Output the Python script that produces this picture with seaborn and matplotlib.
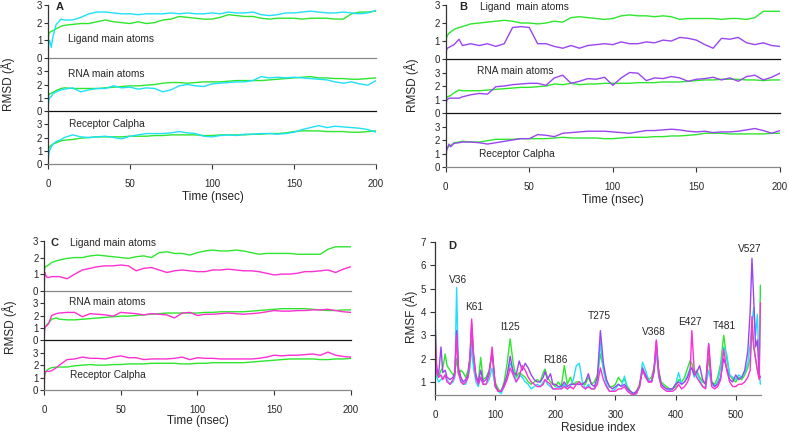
import matplotlib
matplotlib.use("Agg")
import matplotlib.pyplot as plt
import seaborn as sns

# ---- RMSD time series (panels A-C), shared time grid in nsec ----
time = [0, 0.5, 1, 2, 3, 5, 8, 10, 15, 20, 25, 30, 35, 40, 45, 50, 55, 60, 65, 70,
        75, 80, 85, 90, 95, 100, 105, 110, 115, 120, 125, 130, 135, 140, 145, 150,
        155, 160, 165, 170, 175, 180, 185, 190, 195, 200]

a_lig_green = [0.7, 1.4, 1.45, 1.5, 1.55, 1.65, 1.8, 1.85, 1.9, 1.95, 1.95, 2.05, 2.15, 2.05, 2.0, 1.95,
               2.05, 1.95, 2.0, 2.15, 2.2, 2.35, 2.3, 2.25, 2.2, 2.2, 2.3, 2.45, 2.4, 2.35, 2.35, 2.25,
               2.2, 2.25, 2.25, 2.25, 2.2, 2.25, 2.25, 2.25, 2.2, 2.2, 2.5, 2.6, 2.6, 2.65]
a_lig_cyan = [0.0, 0.9, 1.0, 0.6, 1.2, 1.9, 2.2, 2.15, 2.15, 2.3, 2.5, 2.6, 2.6, 2.55, 2.5, 2.5,
              2.45, 2.5, 2.5, 2.5, 2.55, 2.5, 2.55, 2.5, 2.5, 2.55, 2.5, 2.6, 2.55, 2.55, 2.6, 2.45,
              2.4, 2.45, 2.55, 2.55, 2.6, 2.65, 2.6, 2.55, 2.55, 2.6, 2.55, 2.5, 2.55, 2.7]
a_rna_green = [0.7, 1.2, 1.3, 1.35, 1.4, 1.55, 1.7, 1.75, 1.7, 1.7, 1.7, 1.7, 1.75, 1.8, 1.85, 1.9,
               1.9, 1.95, 2.0, 2.1, 2.15, 2.15, 2.1, 2.15, 2.2, 2.2, 2.2, 2.25, 2.3, 2.3, 2.3, 2.3,
               2.35, 2.4, 2.45, 2.5, 2.55, 2.6, 2.5, 2.5, 2.45, 2.45, 2.4, 2.4, 2.45, 2.5]
a_rna_cyan = [0.0, 0.8, 1.0, 1.1, 1.3, 1.45, 1.6, 1.65, 1.75, 1.45, 1.6, 1.7, 1.7, 1.9, 1.75, 1.8,
              1.65, 1.75, 1.7, 1.45, 1.6, 1.9, 2.0, 1.9, 1.85, 2.05, 2.1, 2.15, 2.2, 2.2, 2.3, 2.6,
              2.5, 2.55, 2.5, 2.55, 2.5, 2.45, 2.4, 2.35, 2.2, 2.1, 2.2, 2.05, 1.95, 2.3]
a_rec_green = [0.9, 1.2, 1.3, 1.4, 1.5, 1.6, 1.75, 1.8, 1.85, 1.95, 2.0, 2.05, 2.05, 2.05, 2.05, 2.1,
               2.1, 2.1, 2.15, 2.15, 2.2, 2.2, 2.2, 2.2, 2.15, 2.15, 2.2, 2.2, 2.2, 2.2, 2.25, 2.25,
               2.3, 2.3, 2.35, 2.45, 2.5, 2.5, 2.5, 2.45, 2.45, 2.45, 2.4, 2.4, 2.45, 2.5]
a_rec_cyan = [0.0, 0.8, 1.0, 1.3, 1.5, 1.7, 1.85, 2.0, 2.2, 2.05, 2.0, 2.05, 2.1, 2.0, 1.9, 2.1,
              2.2, 2.3, 2.3, 2.3, 2.35, 2.45, 2.35, 2.3, 2.1, 2.05, 2.15, 2.2, 2.15, 2.25, 2.25, 2.3,
              2.3, 2.25, 2.3, 2.4, 2.6, 2.75, 2.9, 2.75, 2.85, 2.8, 2.75, 2.7, 2.6, 2.4]

b_lig_green = [0.6, 1.2, 1.3, 1.45, 1.5, 1.65, 1.75, 1.8, 1.95, 2.0, 2.05, 2.1, 2.15, 2.1, 2.0, 2.0,
               1.95, 2.0, 2.1, 2.05, 2.3, 2.35, 2.3, 2.25, 2.2, 2.25, 2.4, 2.45, 2.4, 2.4, 2.35, 2.4,
               2.35, 2.2, 2.25, 2.25, 2.25, 2.25, 2.2, 2.25, 2.25, 2.2, 2.3, 2.65, 2.65, 2.65]
b_lig_purple = [0.0, 0.5, 0.6, 0.65, 0.7, 0.8, 1.1, 0.75, 0.85, 0.75, 0.85, 0.7, 0.85, 1.75, 1.8, 1.75,
                0.85, 0.85, 0.7, 0.6, 0.75, 0.6, 0.75, 0.8, 0.85, 0.8, 0.95, 0.85, 0.85, 0.95, 0.9, 1.05,
                1.0, 1.2, 1.15, 1.05, 0.8, 0.6, 1.15, 1.1, 1.2, 0.9, 0.8, 0.9, 0.75, 0.7]
b_rna_green = [0.8, 1.1, 1.2, 1.25, 1.3, 1.5, 1.7, 1.65, 1.65, 1.65, 1.7, 1.75, 1.8, 1.85, 1.9, 1.9,
               1.95, 2.0, 2.15, 2.1, 2.2, 2.1, 2.15, 2.15, 2.2, 2.2, 2.2, 2.2, 2.25, 2.25, 2.25, 2.3,
               2.3, 2.3, 2.35, 2.4, 2.45, 2.45, 2.5, 2.5, 2.5, 2.45, 2.45, 2.4, 2.45, 2.45]
b_rna_purple = [0.0, 0.9, 1.0, 1.1, 1.1, 1.1, 1.1, 1.2, 1.35, 1.45, 1.4, 1.95, 2.0, 2.1, 2.15, 2.2,
                2.2, 2.05, 2.6, 2.8, 2.2, 2.35, 2.55, 2.5, 2.65, 2.05, 2.6, 3.0, 2.95, 2.4, 2.6, 2.55,
                2.7, 2.6, 2.35, 2.5, 2.55, 2.65, 2.45, 2.6, 2.35, 2.7, 2.8, 2.45, 2.65, 2.95]
b_rec_green = [0.9, 1.3, 1.4, 1.55, 1.6, 1.8, 1.85, 1.9, 1.85, 1.85, 1.95, 2.05, 2.05, 2.05, 2.1, 2.1,
               2.1, 2.1, 2.15, 2.2, 2.15, 2.15, 2.15, 2.15, 2.1, 2.1, 2.15, 2.2, 2.2, 2.2, 2.25, 2.25,
               2.3, 2.3, 2.35, 2.4, 2.5, 2.5, 2.5, 2.45, 2.45, 2.45, 2.45, 2.45, 2.5, 2.5]
b_rec_purple = [0.0, 1.2, 1.4, 1.7, 1.5, 1.75, 1.8, 1.85, 1.85, 1.8, 1.7, 1.8, 1.9, 2.0, 2.1, 2.1,
                2.4, 2.35, 2.25, 2.5, 2.55, 2.6, 2.65, 2.65, 2.65, 2.6, 2.55, 2.5, 2.6, 2.7, 2.7, 2.75,
                2.8, 2.75, 2.65, 2.6, 2.65, 2.55, 2.6, 2.6, 2.65, 2.75, 2.85, 2.7, 2.5, 2.7]

c_lig_green = [0.9, 1.4, 1.45, 1.5, 1.55, 1.7, 1.8, 1.85, 1.95, 2.0, 2.0, 2.1, 2.15, 2.1, 2.05, 2.0,
               1.95, 2.05, 2.1, 2.0, 2.3, 2.35, 2.25, 2.25, 2.15, 2.3, 2.4, 2.45, 2.4, 2.4, 2.45, 2.4,
               2.3, 2.2, 2.25, 2.25, 2.25, 2.25, 2.2, 2.2, 2.2, 2.2, 2.5, 2.65, 2.65, 2.65]
c_lig_magenta = [0.0, 1.1, 0.95, 0.8, 0.8, 0.85, 0.85, 0.85, 0.72, 1.0, 1.25, 1.35, 1.45, 1.5, 1.5, 1.55,
                 1.5, 1.2, 1.35, 1.4, 1.25, 1.1, 1.2, 1.25, 1.2, 1.15, 1.15, 1.25, 1.25, 1.3, 1.25, 1.2,
                 1.2, 1.15, 1.05, 0.95, 1.0, 1.0, 1.05, 1.15, 1.15, 1.2, 1.25, 1.1, 1.3, 1.45]
c_rna_green = [0.7, 1.0, 1.1, 1.3, 1.4, 1.7, 1.8, 1.7, 1.65, 1.65, 1.7, 1.75, 1.8, 1.85, 1.9, 1.95,
               1.95, 2.0, 2.05, 2.1, 2.15, 2.2, 2.2, 2.2, 2.2, 2.2, 2.25, 2.25, 2.3, 2.3, 2.3, 2.3,
               2.35, 2.4, 2.45, 2.5, 2.55, 2.55, 2.55, 2.55, 2.5, 2.45, 2.4, 2.4, 2.45, 2.45]
c_rna_magenta = [0.0, 1.0, 1.1, 1.2, 1.35, 2.0, 2.15, 2.2, 2.25, 2.25, 1.9, 2.15, 2.1, 2.05, 1.95, 2.25,
                 2.2, 2.15, 2.05, 2.15, 2.1, 2.05, 1.8, 2.2, 2.25, 2.0, 2.1, 2.1, 2.15, 2.2, 2.15, 2.1,
                 2.15, 2.2, 2.3, 2.4, 2.35, 2.35, 2.4, 2.4, 2.45, 2.45, 2.5, 2.4, 2.3, 2.25]
c_rec_green = [0.9, 1.3, 1.4, 1.6, 1.7, 1.8, 1.85, 1.85, 1.85, 1.95, 2.0, 2.05, 2.0, 2.0, 2.05, 2.05,
               2.1, 2.1, 2.1, 2.15, 2.15, 2.15, 2.15, 2.1, 2.1, 2.15, 2.15, 2.2, 2.2, 2.2, 2.2, 2.2,
               2.25, 2.3, 2.35, 2.4, 2.45, 2.5, 2.5, 2.5, 2.5, 2.45, 2.45, 2.5, 2.5, 2.55]
c_rec_magenta = [0.0, 1.4, 1.5, 1.5, 1.5, 1.55, 1.8, 2.0, 2.45, 2.5, 2.65, 2.55, 2.55, 2.5, 2.65, 2.75,
                 2.6, 2.6, 2.45, 2.5, 2.5, 2.5, 2.55, 2.65, 2.45, 2.6, 2.55, 2.55, 2.5, 2.5, 2.5, 2.5,
                 2.5, 2.55, 2.65, 2.8, 2.75, 2.8, 2.8, 2.85, 2.9, 2.8, 3.05, 2.8, 2.7, 2.65]

# ---- RMSF per residue (panel D) ----
residues = [0, 3, 6, 10, 13, 17, 20, 25, 30, 33,
            36, 39, 43, 47, 51, 55, 58, 61, 64, 68,
            72, 76, 80, 85, 90, 95, 100, 105, 110, 115,
            120, 125, 130, 135, 140, 145, 150, 155, 160, 165,
            170, 175, 180, 183, 187, 192, 196, 200, 205, 210,
            215, 220, 225, 230, 235, 240, 245, 250, 255, 260,
            265, 270, 275, 280, 285, 290, 295, 300, 305, 310,
            315, 320, 325, 330, 335, 340, 345, 350, 355, 360,
            364, 368, 372, 376, 380, 385, 390, 395, 400, 405,
            410, 415, 420, 424, 427, 431, 435, 440, 445, 450,
            455, 460, 465, 470, 475, 480, 485, 490, 495, 500,
            505, 510, 515, 520, 524, 527, 530, 533, 536, 539,
            541]
rmsf_green = [2.0, 1.3, 1.2, 1.5, 1.6, 2.2, 1.7, 1.5, 1.3, 1.4,
              2.0, 1.3, 1.5, 1.4, 1.2, 1.5, 2.0, 2.8, 1.8, 1.2,
              1.0, 2.05, 1.1, 1.2, 1.5, 2.2, 1.0, 0.7, 0.6, 1.0,
              1.8, 2.85, 1.8, 1.2, 1.4, 1.3, 1.2, 1.0, 0.9, 1.0,
              1.1, 1.0, 1.4, 1.55, 1.2, 1.0, 0.9, 0.8, 1.0, 0.8,
              1.7, 0.9, 1.2, 0.9, 1.0, 1.0, 0.9, 0.9, 1.2, 0.9,
              1.0, 1.3, 2.2, 1.6, 1.1, 0.8, 0.8, 0.9, 1.2, 1.0,
              1.1, 0.8, 0.6, 0.5, 0.6, 0.9, 1.5, 1.3, 1.1, 1.2,
              1.6, 2.2, 1.5, 1.0, 0.9, 0.8, 0.7, 0.7, 0.8, 1.1,
              1.0, 1.2, 1.6, 1.9, 1.8, 1.3, 1.5, 1.2, 1.0, 0.9,
              2.0, 1.0, 0.9, 1.2, 1.8, 3.0, 2.0, 1.3, 1.1, 1.0,
              1.2, 1.1, 1.3, 1.6, 2.0, 3.2, 2.5, 2.0, 1.5, 1.2,
              5.15]
rmsf_cyan = [4.0, 1.2, 1.0, 1.1, 1.2, 1.3, 1.1, 0.9, 1.0, 1.2,
             5.05, 1.5, 1.1, 0.9, 0.9, 1.2, 1.6, 2.5, 1.6, 1.0,
             0.8, 1.2, 0.9, 0.9, 1.1, 1.6, 0.8, 0.6, 0.5, 0.8,
             1.3, 1.8, 1.5, 1.0, 1.3, 1.2, 1.0, 0.9, 0.7, 0.8,
             0.9, 0.8, 1.0, 1.1, 0.9, 0.8, 0.7, 0.7, 0.8, 0.7,
             0.9, 0.7, 0.8, 1.1, 1.7, 1.8, 1.0, 0.7, 0.9, 0.7,
             0.7, 1.0, 2.7, 1.5, 0.9, 0.6, 0.6, 0.7, 0.9, 0.8,
             1.25, 0.7, 0.5, 0.45, 0.5, 0.8, 1.85, 1.5, 1.1, 1.0,
             1.4, 2.3, 1.2, 0.9, 0.8, 0.7, 0.6, 0.7, 0.9, 1.4,
             0.9, 1.0, 1.3, 1.6, 1.6, 1.2, 1.4, 1.1, 0.8, 0.8,
             1.5, 0.9, 0.8, 1.0, 1.6, 2.5, 2.2, 1.3, 1.2, 1.1,
             1.3, 1.2, 1.4, 1.8, 2.6, 3.5, 4.2, 3.0, 3.9, 1.5,
             0.9]
rmsf_purple = [2.5, 1.6, 1.3, 2.5, 1.4, 1.5, 1.2, 1.1, 1.2, 1.4,
               3.2, 1.6, 1.2, 1.0, 1.1, 1.3, 2.0, 3.5, 2.2, 1.3,
               1.0, 1.5, 1.0, 1.1, 1.4, 2.3, 0.9, 0.6, 0.6, 0.9,
               1.3, 2.1, 1.4, 1.3, 1.9, 1.5, 1.8, 1.6, 1.3, 1.1,
               1.0, 1.0, 1.2, 1.45, 1.1, 1.35, 0.9, 0.9, 0.8, 0.8,
               1.0, 0.8, 0.9, 0.9, 0.9, 0.9, 0.9, 1.0, 1.35, 0.9,
               0.8, 1.2, 3.2, 1.8, 1.1, 0.8, 0.7, 0.8, 0.9, 0.8,
               0.9, 0.7, 0.6, 0.5, 0.6, 0.8, 1.6, 1.3, 1.0, 1.0,
               1.4, 2.75, 1.4, 0.9, 0.8, 0.7, 0.7, 0.7, 0.9, 1.0,
               0.9, 1.0, 1.2, 1.5, 1.6, 1.3, 1.4, 1.7, 1.1, 0.9,
               2.65, 1.0, 0.8, 0.9, 1.2, 2.0, 1.6, 1.1, 1.0, 1.3,
               1.1, 1.2, 1.5, 2.3, 4.0, 6.3, 4.5, 2.5, 2.8, 1.3,
               1.2]
rmsf_magenta = [3.7, 1.4, 1.2, 1.3, 1.1, 1.3, 1.0, 0.9, 1.1, 1.3,
                3.0, 1.4, 1.0, 0.9, 1.0, 1.2, 2.0, 3.7, 2.2, 1.2,
                0.9, 1.2, 0.9, 0.9, 1.3, 2.5, 0.8, 0.6, 0.6, 0.8,
                1.1, 1.6, 1.3, 1.0, 1.2, 1.7, 1.5, 1.2, 1.0, 0.9,
                0.8, 0.8, 0.9, 1.1, 1.0, 0.9, 0.7, 0.7, 0.7, 0.7,
                0.8, 0.7, 0.8, 0.7, 0.9, 1.0, 0.8, 0.7, 0.8, 0.7,
                0.7, 0.9, 1.6, 1.1, 0.8, 0.6, 0.6, 0.6, 0.7, 0.7,
                0.8, 0.6, 0.5, 0.45, 0.5, 0.8, 1.5, 1.2, 1.0, 1.0,
                1.5, 2.8, 1.3, 0.8, 0.7, 0.6, 0.6, 0.6, 0.7, 0.9,
                0.7, 0.8, 1.0, 1.3, 3.2, 1.5, 1.2, 1.0, 0.8, 0.7,
                2.6, 0.8, 0.7, 0.8, 1.1, 2.4, 1.5, 1.0, 0.8, 0.8,
                0.9, 0.9, 1.0, 1.2, 1.5, 3.8, 2.5, 2.0, 1.5, 1.1,
                4.4]

peak_labels = ["V36", "K61", "I125", "R186", "T275", "V368", "E427", "T481", "V527"]
peak_x = [39, 65, 125, 200, 273, 364, 424, 481, 524]
peak_y = [5.38, 4.2, 3.34, 1.93, 3.84, 3.15, 3.57, 3.38, 6.69]

GREEN = "#2ee62e"
CYAN = "#1fe0f8"
PURPLE = "#9b45f0"
MAGENTA = "#ff2fd2"

sns.set_style("ticks")
plt.rcParams["font.family"] = ["Liberation Sans", "DejaVu Sans"]
plt.rcParams["axes.linewidth"] = 0.9

fig = plt.figure(figsize=(7.89, 4.33), dpi=100)

TICK_FS = 7
LAB_FS = 8.5
TXT_FS = 7.3

pair_colors = {"A": [GREEN, CYAN], "B": [GREEN, PURPLE], "C": [GREEN, MAGENTA]}


def band(rect, series, colors, ymax, sep_color, last):
    ax = fig.add_axes(rect)
    for vals, col in zip(series, colors):
        sns.lineplot(x=time, y=vals, color=col, lw=1.0, ax=ax)
    ax.set_xlim(0, 200)
    ax.set_ylim(0, ymax)
    ax.set_yticks([0, 1, 2, 3])
    ax.set_xticks([0, 50, 100, 150, 200])
    ax.set_xlabel("")
    ax.set_ylabel("")
    for s in ["top", "right"]:
        ax.spines[s].set_visible(False)
    ax.spines["left"].set_color("#333333")
    ax.spines["bottom"].set_color(sep_color)
    ax.tick_params(axis="y", length=3, width=0.8, labelsize=TICK_FS, pad=1, color="#333333")
    if last:
        ax.tick_params(axis="x", length=3.5, width=0.8, labelsize=TICK_FS, pad=7, color="#333333")
    else:
        ax.tick_params(axis="x", bottom=False, labelbottom=False)
    ax.patch.set_alpha(0)
    return ax


def rmsd_panel(left, width, bottoms, height, pairs, seps, letter):
    axes = []
    for i, (b, pair) in enumerate(zip(bottoms, pairs)):
        ymax = 3 if i == 0 else 4
        axes.append(band([left, b, width, height], pair, pair_colors[letter], ymax, seps[i], i == 2))
    return axes


# Panel A
axA = rmsd_panel(0.0608, 0.4158, [0.8661, 0.7436, 0.6212], 53 / 433,
                 [[a_lig_green, a_lig_cyan], [a_rna_green, a_rna_cyan], [a_rec_green, a_rec_cyan]],
                 ["#888888", "#111111", "#888888"], "A")
axA[0].text(5, 2.87, "A", fontsize=8, fontweight="bold", va="center")
axA[0].text(12, 1.05, "Ligand main atoms", fontsize=TXT_FS, va="center")
axA[1].text(12, 2.78, "RNA main atoms", fontsize=TXT_FS, va="center")
axA[2].text(12.6, 3.0, "Receptor Calpha", fontsize=TXT_FS, va="center")
fig.text(8 / 789, 1 - 84 / 433, "RMSD (Å)", rotation=90, fontsize=LAB_FS, ha="center", va="center")
fig.text(213 / 789, 1 - 197 / 433, "Time (nsec)", fontsize=LAB_FS, ha="center", va="center")

# Panel B
axB = rmsd_panel(0.5649, 0.4237, [0.8637, 0.7390, 0.6143], 54 / 433,
                 [[b_lig_green, b_lig_purple], [b_rna_green, b_rna_purple], [b_rec_green, b_rec_purple]],
                 ["#111111", "#111111", "#888888"], "B")
axB[0].text(8, 2.87, "B", fontsize=8, fontweight="bold", va="center")
axB[0].text(20.5, 2.87, "Ligand  main atoms", fontsize=TXT_FS, va="center")
axB[1].text(19, 3.13, "RNA main atoms", fontsize=TXT_FS, va="center")
axB[2].text(20, 0.93, "Receptor Calpha", fontsize=TXT_FS, va="center")
fig.text(412 / 789, 1 - 85 / 433, "RMSD (Å)", rotation=90, fontsize=LAB_FS, ha="center", va="center")
fig.text(613 / 789, 1 - 200 / 433, "Time (nsec)", fontsize=LAB_FS, ha="center", va="center")

# Panel C
axC = rmsd_panel(0.0558, 0.389, [0.3287, 0.2140, 0.0993], 49.67 / 433,
                 [[c_lig_green, c_lig_magenta], [c_rna_green, c_rna_magenta], [c_rec_green, c_rec_magenta]],
                 ["#888888", "#111111", "#888888"], "C")
axC[0].text(4.5, 2.88, "C", fontsize=8, fontweight="bold", va="center")
axC[0].text(16.7, 2.88, "Ligand main atoms", fontsize=TXT_FS, va="center")
axC[1].text(16, 3.1, "RNA main atoms", fontsize=TXT_FS, va="center")
axC[2].text(17, 1.18, "Receptor Calpha", fontsize=TXT_FS, va="center")
fig.text(10 / 789, 1 - 327 / 433, "RMSD (Å)", rotation=90, fontsize=LAB_FS, ha="center", va="center")
fig.text(198 / 789, 1 - 421 / 433, "Time (nsec)", fontsize=LAB_FS, ha="center", va="center")

# Panel D
axD = fig.add_axes([0.5513, 0.0878, 0.4132, 0.3533])
for vals, col in zip([rmsf_green, rmsf_cyan, rmsf_purple, rmsf_magenta], [GREEN, CYAN, PURPLE, MAGENTA]):
    sns.lineplot(x=residues, y=vals, color=col, lw=1.0, ax=axD)
axD.set_xlim(0, 542)
axD.set_ylim(0.44, 7)
axD.set_yticks([1, 2, 3, 4, 5, 6, 7])
axD.set_xticks([0, 100, 200, 300, 400, 500])
axD.set_xlabel("")
axD.set_ylabel("")
for s in ["top", "right"]:
    axD.spines[s].set_visible(False)
axD.spines["left"].set_color("#333333")
axD.spines["bottom"].set_color("#888888")
axD.tick_params(axis="y", length=3.5, width=0.8, labelsize=TICK_FS, pad=3, color="#333333")
axD.tick_params(axis="x", length=3.5, width=0.8, labelsize=TICK_FS, pad=7, color="#333333")
axD.text(22, 6.83, "D", fontsize=8, fontweight="bold", va="center")
for lab, px, py in zip(peak_labels, peak_x, peak_y):
    axD.text(px, py, lab, fontsize=TXT_FS, ha="center", va="center")
fig.text(411 / 789, 1 - 317 / 433, "RMSF (Å)", rotation=90, fontsize=LAB_FS, ha="center", va="center")
fig.text(598 / 789, 1 - 428 / 433, "Residue index", fontsize=LAB_FS, ha="center", va="center")

fig.savefig("out.png", dpi=100)
